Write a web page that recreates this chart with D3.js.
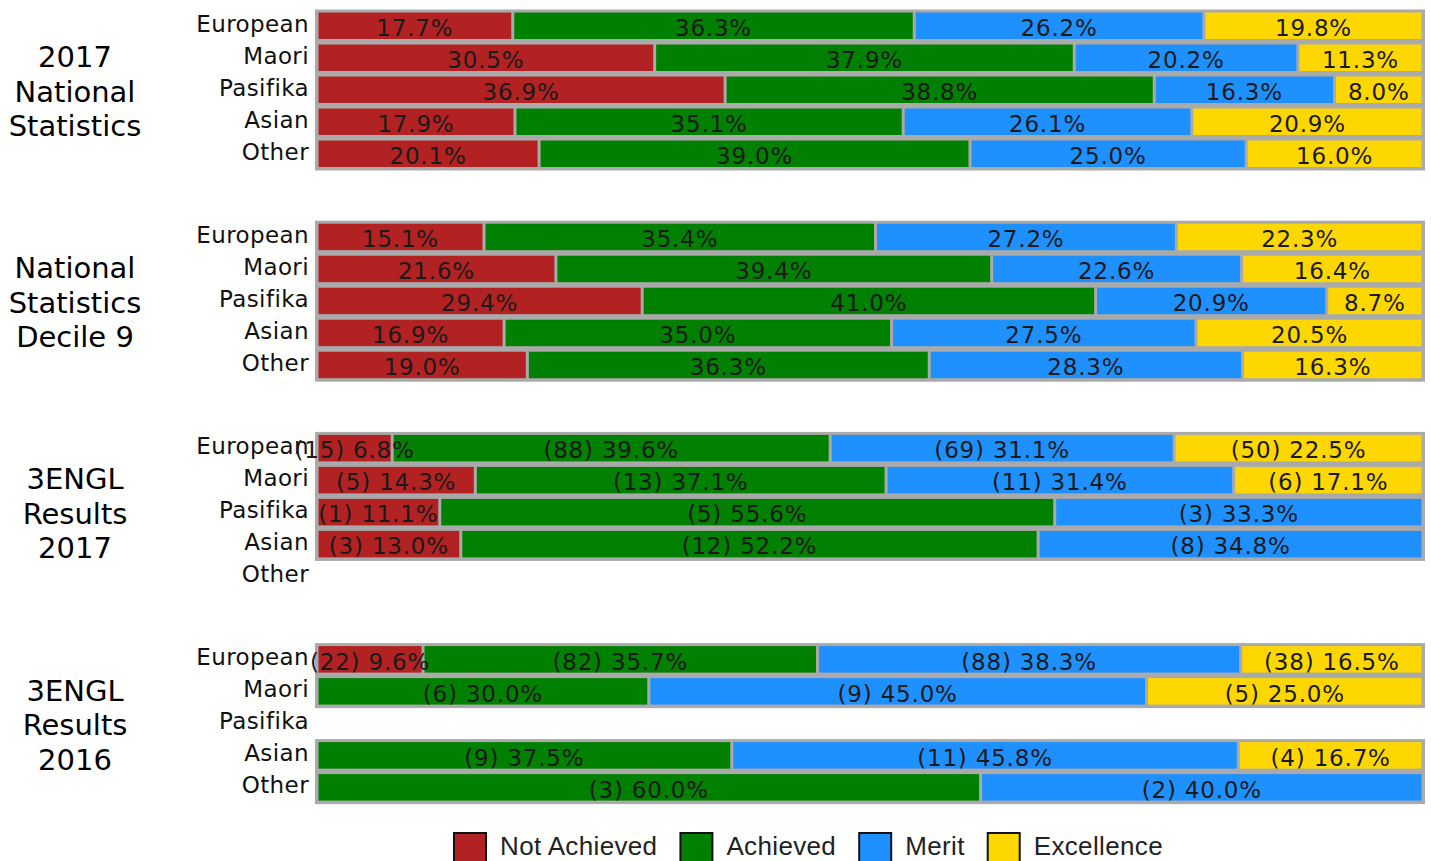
<!DOCTYPE html>
<html>
<head>
<meta charset="utf-8">
<script src="https://cdn.jsdelivr.net/npm/d3@7"></script>
<style>
  html, body { margin: 0; padding: 0; background: #fff; }
  svg { display: block; }
</style>
</head>
<body>
<svg id="chart" width="1431" height="861"></svg>
<script>
// ---- data ----
const ethnicities = ["European", "Maori", "Pasifika", "Asian", "Other"];
const levels = ["Not Achieved", "Achieved", "Merit", "Excellence"];
const levelColors = ["#b22222", "#008000", "#1e90ff", "#ffd700"];
const groupTitles = [
  ["2017", "National", "Statistics"],
  ["National", "Statistics", "Decile 9"],
  ["3ENGL", "Results", "2017"],
  ["3ENGL", "Results", "2016"]
];

const natStats2017 = [
  [17.7, 36.3, 26.2, 19.8],
  [30.5, 37.9, 20.2, 11.3],
  [36.9, 38.8, 16.3, 8.0],
  [17.9, 35.1, 26.1, 20.9],
  [20.1, 39.0, 25.0, 16.0]
];
const natStatsDecile9 = [
  [15.1, 35.4, 27.2, 22.3],
  [21.6, 39.4, 22.6, 16.4],
  [29.4, 41.0, 20.9, 8.7],
  [16.9, 35.0, 27.5, 20.5],
  [19.0, 36.3, 28.3, 16.3]
];
const results2017Pct = [
  [6.8, 39.6, 31.1, 22.5],
  [14.3, 37.1, 31.4, 17.1],
  [11.1, 55.6, 33.3, 0],
  [13.0, 52.2, 34.8, 0],
  null
];
const results2017Count = [
  [15, 88, 69, 50],
  [5, 13, 11, 6],
  [1, 5, 3, 0],
  [3, 12, 8, 0],
  null
];
const results2016Pct = [
  [9.6, 35.7, 38.3, 16.5],
  [0, 30.0, 45.0, 25.0],
  null,
  [0, 37.5, 45.8, 16.7],
  [0, 60.0, 40.0, 0]
];
const results2016Count = [
  [22, 82, 88, 38],
  [0, 6, 9, 5],
  null,
  [0, 9, 11, 4],
  [0, 3, 2, 0]
];

const groupsPct = [natStats2017, natStatsDecile9, results2017Pct, results2016Pct];
const groupsCount = [null, null, results2017Count, results2016Count];

// ---- layout ----
const svg = d3.select("#chart");
const x = d3.scaleLinear().domain([0, 100]).range([317, 1423]);
const groupY = d3.scaleLinear().domain([0, 1]).range([9.5, 220.7]);
const rowY = d3.scaleBand().domain(ethnicities).range([0, 160]);
const color = d3.scaleOrdinal().domain(levels).range(levelColors);
const segInsetY = 3, segH = 26.5;

groupsPct.forEach((rows, gi) => {
  const g = svg.append("g").attr("transform", `translate(0,${groupY(gi)})`);

  // group title
  const title = g.append("text")
    .attr("text-anchor", "middle")
    .attr("font-family", "DejaVu Sans, Verdana, sans-serif")
    .attr("font-size", 29)
    .attr("fill", "#000");
  groupTitles[gi].forEach((line, li) => {
    title.append("tspan").attr("x", 75).attr("y", 57.5 + li * 34.5).text(line);
  });

  // row labels
  g.selectAll("text.row")
    .data(ethnicities)
    .join("text")
    .attr("class", "row")
    .attr("x", 309)
    .attr("y", d => rowY(d) + 22)
    .attr("text-anchor", "end")
    .attr("font-family", "DejaVu Sans, Verdana, sans-serif")
    .attr("font-size", 23)
    .attr("letter-spacing", 0.4)
    .attr("fill", "#111")
    .text(d => d);

  const labelLayer = [];
  rows.forEach((vals, ri) => {
    if (!vals) return;
    const y0 = rowY(ethnicities[ri]);
    const total = d3.sum(vals);
    // background / border
    g.append("rect")
      .attr("x", x(0) - 2)
      .attr("y", y0)
      .attr("width", x(100) - x(0) + 4)
      .attr("height", segH + 2 * segInsetY + 0.5)
      .attr("fill", "#aaaaaa");
    let cum = 0;
    vals.forEach((v, li) => {
      if (!v) return;
      const s = cum / total * 100, e = (cum + v) / total * 100;
      cum += v;
      g.append("rect")
        .attr("x", x(s) + 1.5)
        .attr("y", y0 + segInsetY)
        .attr("width", Math.max(0, x(e) - x(s) - 3))
        .attr("height", segH)
        .attr("fill", color(levels[li]));
      const counts = groupsCount[gi];
      const label = counts ? `(${counts[ri][li]}) ${v.toFixed(1)}%` : `${v.toFixed(1)}%`;
      labelLayer.push({ x: (x(s) + x(e)) / 2, y: y0 + 26.5, label });
    });
  });
  g.selectAll("text.val")
    .data(labelLayer)
    .join("text")
    .attr("class", "val")
    .attr("x", d => d.x)
    .attr("y", d => d.y)
    .attr("text-anchor", "middle")
    .attr("font-family", "DejaVu Sans, Verdana, sans-serif")
    .attr("font-size", 23)
    .attr("letter-spacing", 0.8)
    .attr("fill", "#1a1a1a")
    .text(d => d.label);
});

// ---- legend ----
const legend = svg.append("g");
let lx = 453;
levels.forEach((lev, i) => {
  legend.append("rect")
    .attr("x", lx + 1)
    .attr("y", 833)
    .attr("width", 32)
    .attr("height", 32)
    .attr("fill", color(lev))
    .attr("stroke", "#111")
    .attr("stroke-width", 2);
  const t = legend.append("text")
    .attr("x", lx + 47)
    .attr("y", 855)
    .attr("font-family", "Liberation Sans, Arial, sans-serif")
    .attr("font-size", 26)
    .attr("letter-spacing", 0.35)
    .attr("fill", "#222")
    .text(lev);
  lx = lx + 47 + t.node().getComputedTextLength() + 22;
});
</script>
</body>
</html>
